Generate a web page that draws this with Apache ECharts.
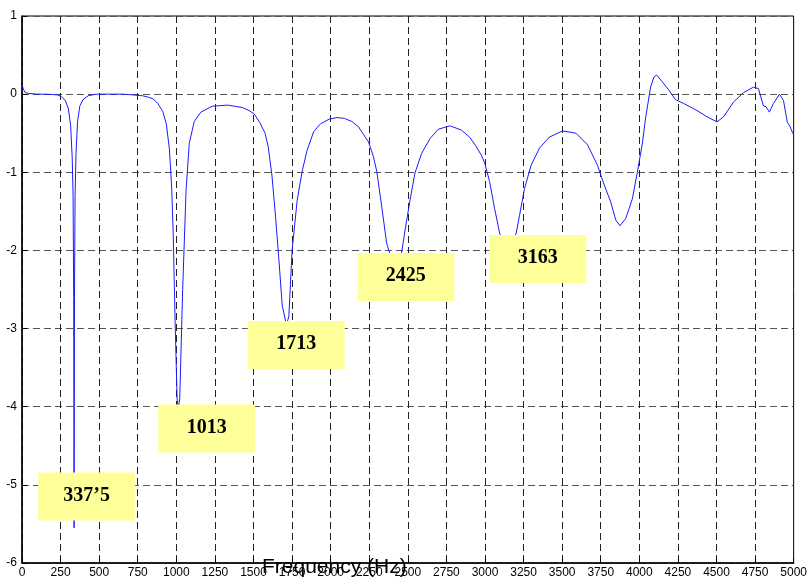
<!DOCTYPE html>
<html>
<head>
<meta charset="utf-8">
<title>Frequency response</title>
<script src="https://cdn.jsdelivr.net/npm/echarts@6/dist/echarts.min.js"></script>
<style>
  html, body { margin: 0; padding: 0; background: #fff; }
  #chart { width: 810px; height: 581px; }
</style>
</head>
<body>
<div id="chart"></div>
<script>
// curve: frequency (Hz) and level
const freq = [
  0, 10, 20, 40, 100, 150, 200, 230, 255, 280, 300, 315, 325, 331, 335, 337.5, 340, 344, 350, 360,
  375, 395, 430, 480, 550, 650, 720, 780, 820, 850, 880, 912, 935, 955, 970, 980, 992, 1005, 1013, 1022,
  1041, 1063, 1084, 1116, 1159, 1232, 1331, 1426, 1471, 1503, 1540, 1575, 1595, 1619, 1643, 1665, 1686, 1713, 1729, 1750,
  1783, 1815, 1847, 1890, 1934, 1990, 2041, 2090, 2137, 2181, 2224, 2245, 2277, 2299, 2331, 2363, 2390, 2425, 2455, 2470,
  2482, 2514, 2546, 2589, 2643, 2697, 2772, 2847, 2900, 2940, 2976, 2998, 3030, 3062, 3095, 3125, 3150, 3180, 3202, 3224,
  3256, 3299, 3353, 3417, 3503, 3589, 3665, 3729, 3772, 3815, 3847, 3875, 3912, 3955, 3987, 4019, 4041, 4073, 4095, 4112,
  4148, 4192, 4234, 4288, 4374, 4439, 4503, 4546, 4611, 4675, 4740, 4772, 4804, 4821, 4843, 4869, 4908, 4934, 4959, 4976,
  4992, 5000
]
const level = [
  0.12, 0.06, 0.02, 0.01, 0.0, 0.0, -0.005, -0.01, -0.03, -0.08, -0.18, -0.4, -0.8, -1.3, -2.6, -5.55, -2.6, -1.3, -0.75, -0.35,
  -0.15, -0.07, -0.02, 0.0, 0.0, 0.0, -0.01, -0.02, -0.04, -0.06, -0.12, -0.22, -0.38, -0.7, -1.2, -1.8, -2.9, -3.9, -4.02, -3.9,
  -2.5, -1.23, -0.63, -0.35, -0.23, -0.155, -0.14, -0.17, -0.21, -0.25, -0.36, -0.5, -0.67, -1.03, -1.57, -2.13, -2.7, -2.95, -2.85, -2.0,
  -1.36, -0.99, -0.72, -0.48, -0.38, -0.32, -0.30, -0.31, -0.35, -0.42, -0.55, -0.61, -0.80, -0.99, -1.44, -1.91, -2.08, -2.15, -2.08, -1.9,
  -1.74, -1.36, -1.01, -0.76, -0.57, -0.45, -0.405, -0.46, -0.55, -0.66, -0.78, -0.88, -1.12, -1.46, -1.78, -1.92, -1.95, -1.9, -1.78, -1.55,
  -1.21, -0.91, -0.69, -0.55, -0.47, -0.50, -0.65, -0.91, -1.16, -1.38, -1.61, -1.685, -1.59, -1.34, -1.0, -0.64, -0.3, 0.09, 0.22, 0.245,
  0.16, 0.05, -0.07, -0.12, -0.21, -0.29, -0.355, -0.29, -0.10, 0.02, 0.09, 0.07, -0.15, -0.16, -0.23, -0.12, 0.0, -0.08, -0.36, -0.41,
  -0.49, -0.52
]

// yellow notes, anchored in data coordinates
const noteText = ['337’5', '1013', '1713', '2425', '3163']
const noteFreq = [419, 1197, 1777, 2487, 3342]
const noteLevel = [-5.15, -4.28, -3.21, -2.34, -2.11]

const chart = echarts.init(document.getElementById('chart'))

const axisFont = {
  color: '#000',
  fontSize: 12,
  fontFamily: 'Liberation Sans, Arial, sans-serif',
  formatter: v => String(v)
}

// opaque yellow box with bold label, centred on the data point
function renderNote (params, api) {
  const c = api.coord([api.value(0), api.value(1)])
  const w = 97
  const h = 48
  return {
    type: 'group',
    children: [
      {
        type: 'rect',
        z2: 50,
        shape: { x: c[0] - w / 2, y: c[1] - h / 2, width: w, height: h },
        style: { fill: '#ffff99', stroke: null, opacity: 1 }
      },
      {
        type: 'text',
        z2: 60,
        x: c[0],
        y: c[1] - 1,
        style: {
          text: noteText[params.dataIndex],
          fill: '#000',
          align: 'center',
          verticalAlign: 'middle',
          font: 'bold 20px "Liberation Serif", "Times New Roman", serif'
        }
      }
    ]
  }
}

chart.setOption({
  animation: false,
  grid: {
    left: 22,
    right: 13,
    top: 16,
    bottom: 18,
    show: true,
    borderColor: '#000',
    borderWidth: 1,
    backgroundColor: 'transparent'
  },
  xAxis: {
    type: 'value',
    min: 0,
    max: 5000,
    interval: 250,
    axisLine: { show: true, onZero: false, lineStyle: { color: '#000', width: 1.5 } },
    axisTick: { show: true, inside: true, length: 5, lineStyle: { color: '#000' } },
    axisLabel: Object.assign({ margin: 4 }, axisFont),
    splitLine: { show: true, lineStyle: { color: '#222', width: 1, type: [7, 4] } }
  },
  yAxis: {
    type: 'value',
    min: -6,
    max: 1,
    interval: 1,
    axisLine: { show: true, onZero: false, lineStyle: { color: '#000', width: 1.5 } },
    axisTick: { show: true, inside: true, length: 5, lineStyle: { color: '#000' } },
    axisLabel: Object.assign({ margin: 5 }, axisFont),
    splitLine: { show: true, lineStyle: { color: '#555', width: 1, type: [7, 4] } }
  },
  graphic: [
    {
      type: 'text',
      left: 262,
      top: 557,
      z: 100,
      style: {
        text: 'Frequency (Hz)',
        fill: '#000',
        font: '21px "Liberation Sans", Arial, sans-serif'
      }
    }
  ],
  series: [
    {
      name: 'response',
      type: 'line',
      data: freq.map((f, i) => [f, level[i]]),
      showSymbol: false,
      smooth: false,
      silent: true,
      lineStyle: { color: '#1a1aff', width: 1 },
      z: 1
    },
    {
      name: 'notes',
      type: 'custom',
      data: noteFreq.map((f, i) => [f, noteLevel[i]]),
      renderItem: renderNote,
      clip: false,
      z: 10
    }
  ]
})
</script>
</body>
</html>
